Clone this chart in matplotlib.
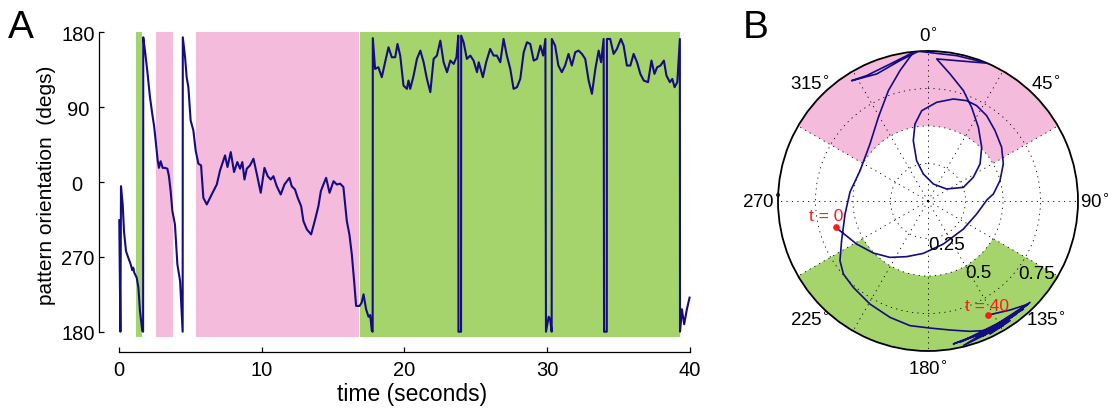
import numpy as np
import matplotlib
matplotlib.use("Agg")
import matplotlib.pyplot as plt

plt.rcParams['font.family'] = ['Liberation Sans', 'DejaVu Sans']

# ---- panel A : pattern orientation over time
t_sec = [0.02, 0.10, 0.14, 0.26, 0.35, 0.49, 0.65, 0.82, 0.93, 1.00, 1.07, 1.24, 1.36, 1.47, 1.63, 1.69,
         1.70, 1.82, 1.98, 2.17, 2.33, 2.47, 2.59, 2.71, 2.80, 2.92, 3.06, 3.22, 3.39, 3.50, 3.62, 3.74,
         3.92, 4.09, 4.28, 4.39, 4.46, 4.47, 4.63, 4.74, 4.86, 5.02, 5.21, 5.37, 5.56, 5.75, 5.91, 6.15,
         6.38, 6.61, 6.85, 7.08, 7.43, 7.60, 7.83, 8.06, 8.29, 8.48, 8.64, 8.79, 8.95, 9.18, 9.42, 9.65,
         9.93, 10.19, 10.42, 10.63, 10.82, 11.05, 11.33, 11.59, 11.94, 12.10, 12.33, 12.52, 12.76, 12.92,
         13.16, 13.46, 13.74, 13.97, 14.14, 14.32, 14.51, 14.75, 15.03, 15.26, 15.49, 15.72, 15.96, 16.14,
         16.31, 16.47, 16.61, 16.85, 17.00, 17.13, 17.31, 17.48, 17.60, 17.71, 17.77, 17.78, 17.94, 18.17,
         18.41, 18.64, 18.88, 19.11, 19.35, 19.51, 19.70, 19.93, 20.17, 20.28, 20.40, 20.64, 20.87, 21.11,
         21.34, 21.57, 21.81, 22.04, 22.27, 22.51, 22.74, 22.98, 23.21, 23.45, 23.64, 23.77, 23.78, 23.96,
         23.97, 24.14, 24.37, 24.61, 24.84, 25.08, 25.20, 25.49, 25.72, 26.00, 26.24, 26.47, 26.71, 26.94,
         27.17, 27.41, 27.64, 27.88, 28.11, 28.35, 28.58, 28.81, 29.05, 29.28, 29.52, 29.71, 29.87, 29.91,
         30.10, 30.20, 30.31, 30.32, 30.55, 30.78, 31.02, 31.25, 31.49, 31.72, 31.96, 32.19, 32.43, 32.66,
         32.90, 33.13, 33.37, 33.60, 33.77, 33.95, 33.98, 34.17, 34.18, 34.41, 34.65, 34.88, 35.16, 35.35,
         35.58, 35.82, 36.05, 36.29, 36.52, 36.76, 37.06, 37.30, 37.51, 37.70, 37.93, 38.17, 38.35, 38.59,
         38.76, 38.92, 39.11, 39.29, 39.30, 39.43, 39.59, 39.78, 39.97]
orient_deg = [-46, -180, -5, -27, -59, -83, -91, -99, -106, -103, -109, -115, -127, -155, -179, -180,
              174, 158, 134, 102, 82, 66, 46, 26, 17, 25, 17, 17, 16, 7, -11, -35,
              -51, -99, -119, -155, -180, 174, 150, 126, 114, 74, 62, 38, 22, 20, -19, -27,
              -19, -11, -3, 14, 32, 18, 36, 12, 24, 16, 24, 3, 16, 20, 28, 10,
              -13, 17, 7, 3, 7, -5, -15, -3, 5, -5, -9, -19, -29, -47,
              -57, -63, -45, -29, -11, -3, 5, -13, 1, -3, -2, -6, -47, -63,
              -87, -119, -149, -149, -145, -135, -153, -162, -160, -179, -180, 173, 136, 138,
              126, 144, 162, 150, 150, 166, 152, 116, 112, 122, 112, 128, 148, 158,
              144, 124, 108, 148, 152, 170, 144, 132, 146, 142, 150, 176, -180, -180,
              176, 168, 148, 152, 146, 132, 144, 126, 144, 160, 152, 152, 144, 172,
              152, 136, 112, 114, 124, 156, 168, 166, 146, 148, 164, 152, 172, -180,
              -162, -165, -180, 172, 164, 140, 132, 140, 154, 140, 156, 158, 154, 148,
              122, 106, 136, 158, 144, 172, -180, -180, 172, 172, 154, 160, 172, 164,
              140, 140, 154, 144, 130, 122, 120, 146, 130, 138, 140, 146, 128, 120,
              124, 114, 120, 172, -180, -153, -171, -153, -139]

green_start = [1.19, 16.89]
green_end = [1.61, 39.31]
pink_start = [2.59, 5.40]
pink_end = [3.78, 16.82]

ytick_vals = [-180, -90, 0, 90, 180]
ytick_text = ['180', '270', '0  ', '90 ', '180']
xtick_vals = [0, 10, 20, 30, 40]

# ---- panel B : trajectory as (east, north) vector components, radius 1 = outer ring
vec_east = [-0.616, -0.564, -0.476, -0.364, -0.253, -0.142, -0.031, 0.102, 0.236, 0.324, 0.395, 0.436,
            0.480, 0.502, 0.491, 0.447, 0.391, 0.324, 0.258, 0.169, 0.058, -0.042, -0.087, -0.098,
            -0.076, -0.031, 0.036, 0.124, 0.236, 0.302, 0.347, 0.358, 0.336, 0.291, 0.236, 0.147,
            0.058, 0.402, 0.191, -0.064, -0.187, -0.342, -0.509, -0.409, -0.253, -0.098, -0.187,
            -0.264, -0.331, -0.387, -0.453, -0.520, -0.553, -0.576, -0.587, -0.564, -0.498, -0.387,
            -0.253, -0.120, 0.013, 0.147, 0.280, 0.369, 0.458, 0.169, 0.502, 0.236, 0.636, 0.324,
            0.680, 0.413, 0.547, 0.213, 0.591, 0.369, 0.669, 0.547, 0.402]
vec_north = [-0.176, -0.216, -0.287, -0.347, -0.376, -0.371, -0.349, -0.287, -0.187, -0.087, 0.010, 0.047,
             0.136, 0.247, 0.358, 0.469, 0.569, 0.636, 0.669, 0.680, 0.658, 0.602, 0.513, 0.402,
             0.269, 0.180, 0.113, 0.080, 0.091, 0.158, 0.247, 0.358, 0.491, 0.624, 0.736, 0.847,
             0.947, 0.918, 0.969, 0.998, 0.936, 0.847, 0.802, 0.836, 0.913, 0.991, 0.869,
             0.736, 0.558, 0.380, 0.202, 0.060, -0.087, -0.264, -0.398, -0.487, -0.576, -0.687,
             -0.776, -0.831, -0.847, -0.860, -0.869, -0.864, -0.842, -0.953, -0.831, -0.964, -0.720, -0.909,
             -0.676, -0.887, -0.798, -0.942, -0.753, -0.898, -0.687, -0.727, -0.760]

angle_labels = [0, 45, 90, 135, 180, 225, 270, 315]
r_labels = ['0.25', '0.5', '0.75']

navy = '#140c80'
green = '#a6d46c'
pink = '#f5bbdc'

fig = plt.figure(figsize=(11.08, 4.10), dpi=100)

# ================= A
axA = fig.add_axes([99/1108, 72.3/410, 601/1108, 304.4/410])
for a, b in zip(green_start, green_end):
    axA.axvspan(a, b, color=green, lw=0, zorder=0)
for a, b in zip(pink_start, pink_end):
    axA.axvspan(a, b, color=pink, lw=0, zorder=0)
axA.plot(t_sec, orient_deg, color=navy, lw=1.5, zorder=2)
axA.set_xlim(-1.4, 40.7)
axA.set_ylim(-186, 180)
axA.spines['top'].set_visible(False)
axA.spines['right'].set_visible(False)
axA.spines['left'].set_bounds(-180, 180)
axA.spines['bottom'].set_bounds(0, 40)
axA.spines['bottom'].set_position(('outward', 10.7))
for s in ['left', 'bottom']:
    axA.spines[s].set_linewidth(0.9)
axA.set_yticks(ytick_vals)
axA.set_yticklabels(ytick_text)
axA.set_xticks(xtick_vals)
axA.tick_params(direction='in', length=3.6, width=0.9, labelsize=14.5)
axA.tick_params(axis='x', pad=6)
axA.tick_params(axis='y', pad=3)
axA.set_xlabel('time (seconds)', fontsize=16.5)
axA.xaxis.set_label_coords(0.5216, -0.148)
axA.set_ylabel('pattern orientation  (degs)', fontsize=15, labelpad=4)
fig.text(8/1108, 1 - 10/410, 'A', fontsize=28, va='top', ha='left')

# ================= B
axB = fig.add_axes([778/1108, 58/410, 300/1108, 300/410], projection='polar')
axB.set_theta_zero_location('N')
axB.set_theta_direction(-1)
axB.bar(0, 0.5, width=np.deg2rad(120), bottom=0.5, color=pink, lw=0, zorder=0.5)
axB.bar(np.pi, 0.5, width=np.deg2rad(120), bottom=0.5, color=green, lw=0, zorder=0.5)
axB.set_ylim(0, 1)
axB.set_xticks(np.deg2rad(np.arange(0, 360, 30)))
axB.set_xticklabels([])
axB.set_yticks([0.25, 0.5, 0.75])
axB.set_yticklabels([])
axB.grid(True, color='k', linestyle=(0, (1.5, 5)), linewidth=0.6)
axB.set_axisbelow(False)
axB.spines['polar'].set_linewidth(1.3)

e = np.array(vec_east)
n = np.array(vec_north)
theta = np.arctan2(e, n)
rr = np.hypot(e, n)
axB.plot(theta, rr, color=navy, lw=1.2, zorder=3)
axB.plot(theta[[0, -1]], rr[[0, -1]], 'o', color='#ff1a1a', ms=3.8, zorder=4)
axB.annotate('t = 0', (theta[0], rr[0]), xytext=(-6.5, 8.5), textcoords='offset points',
             ha='center', va='center', color='#ff1a1a', fontsize=12.5)
axB.annotate('t = 40', (theta[-1], rr[-1]), xytext=(-1, 7), textcoords='offset points',
             ha='center', va='center', color='#ff1a1a', fontsize=12.5)

for ang in angle_labels:
    axB.text(np.deg2rad(ang), 1.11, '%d$^{\\circ}$' % ang, ha='center', va='center', fontsize=13.5)
for lab, ang, rad in zip(r_labels, [156.5, 144.8, 123.6], [0.313, 0.582, 0.87]):
    axB.text(np.deg2rad(ang), rad, lab, ha='center', va='center', fontsize=13.5, zorder=5)

fig.text(743/1108, 1 - 10/410, 'B', fontsize=28, va='top', ha='left')

fig.savefig('out.png', dpi=100)
